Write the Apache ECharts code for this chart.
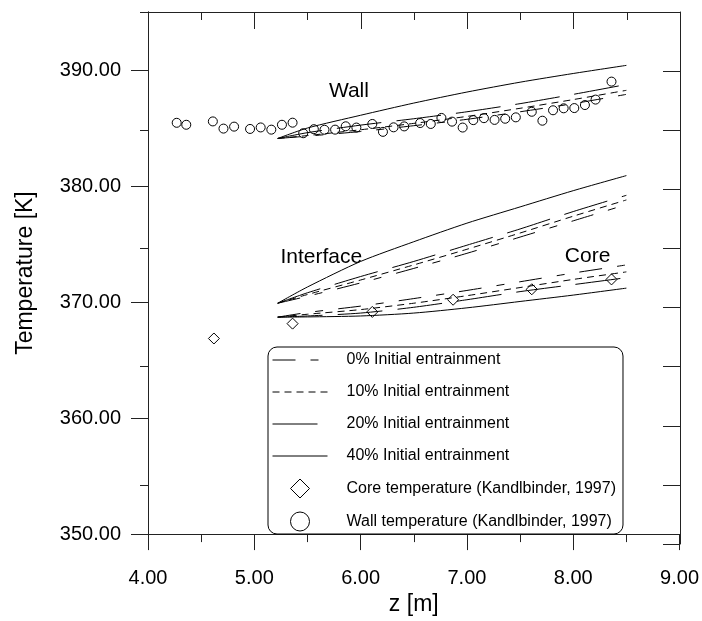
<!DOCTYPE html>
<html>
<head>
<meta charset="utf-8">
<script src="https://cdn.jsdelivr.net/npm/echarts@6/dist/echarts.min.js"></script>
<style>
  html, body { margin: 0; padding: 0; background: #fff; }
  #chart { width: 702px; height: 621px; }
</style>
</head>
<body>
<div id="chart"></div>
<script>
// Axial positions of the model output [m]
const modelZ = [5.22, 5.5, 6.0, 6.5, 7.0, 7.5, 8.0, 8.5];

// Wall temperature predictions [K]
const wall0  = [384.1, 384.3, 384.7, 385.2, 385.75, 386.4, 387.1, 387.9];
const wall10 = [384.1, 384.35, 384.85, 385.4, 386.0, 386.7, 387.45, 388.25];
const wall20 = [384.1, 384.6, 385.25, 385.8, 386.4, 387.1, 387.9, 388.75];
const wall40 = [384.1, 385.0, 386.1, 387.15, 388.1, 388.95, 389.7, 390.4];

// Interface temperature predictions [K]
const iface0  = [369.9, 370.5, 371.65, 372.9, 374.2, 375.6, 377.0, 378.4];
const iface10 = [369.9, 370.65, 371.9, 373.2, 374.55, 375.95, 377.4, 378.8];
const iface20 = [369.9, 370.8, 372.2, 373.5, 374.9, 376.3, 377.8, 379.2];
const iface40 = [369.9, 371.3, 373.5, 375.2, 376.8, 378.2, 379.6, 380.9];

// Core temperature predictions [K]
const core0  = [368.7, 369.1, 369.65, 370.3, 371.0, 371.75, 372.5, 373.2];
const core10 = [368.7, 368.95, 369.35, 369.9, 370.55, 371.25, 371.95, 372.6];
const core20 = [368.7, 368.8, 369.05, 369.55, 370.2, 370.9, 371.5, 372.1];
const core40 = [368.7, 368.72, 368.8, 369.05, 369.5, 370.05, 370.6, 371.2];

// Measurements (Kandlbinder, 1997)
const wallZ = [4.27, 4.36, 4.61, 4.71, 4.81, 4.96, 5.06, 5.16, 5.26, 5.36, 5.46, 5.56, 5.66, 5.76, 5.86, 5.96,
               6.11, 6.21, 6.31, 6.41, 6.56, 6.66, 6.76, 6.86, 6.96, 7.06, 7.16, 7.26, 7.36, 7.46,
               7.61, 7.71, 7.81, 7.91, 8.01, 8.11, 8.21, 8.36];
const wallT = [385.45, 385.28, 385.57, 384.95, 385.12, 384.92, 385.05, 384.86, 385.28, 385.46, 384.55, 384.9, 384.85, 384.86, 385.15, 385.04,
               385.35, 384.67, 385.06, 385.14, 385.43, 385.35, 385.87, 385.55, 385.04, 385.68, 385.85, 385.7, 385.8, 385.92,
               386.4, 385.63, 386.53, 386.7, 386.72, 386.98, 387.45, 389.0];
const coreZ = [4.62, 5.36, 6.11, 6.87, 7.61, 8.36];
const coreT = [366.86, 368.14, 369.15, 370.2, 371.1, 371.95];

// Curve family labels
const noteText = ['Wall', 'Interface', 'Core'];
const noteZ = [5.89, 5.63, 8.135];
const noteT = [388.2, 373.9, 373.95];

// Axis ticks
const yMajor = [350, 360, 370, 380, 390];
const yMinor = [355, 365, 375, 385, 395];

const names = ['0% Initial entrainment', '10% Initial entrainment', '20% Initial entrainment', '40% Initial entrainment'];
const coreName = 'Core temperature (Kandlbinder, 1997)';
const wallName = 'Wall temperature (Kandlbinder, 1997)';

const FONT = "'Liberation Sans', Arial, Helvetica, sans-serif";
const AX = '#222';
const dashes = [[23, 15, 8, 15], [7, 5], [45, 15], 'solid'];
// square diamond outline used for the legend sample
const DIAMOND_ICON = 'path://M10,0L20,10L10,20L0,10Z';

const pairs = (xs, ys) => xs.map((x, i) => [x, ys[i]]);

const groups = [
  [wall0, wall10, wall20, wall40],
  [iface0, iface10, iface20, iface40],
  [core0, core10, core20, core40]
];

const series = [];
groups.forEach(g => {
  g.forEach((vals, k) => {
    series.push({
      type: 'line',
      name: names[k],
      xAxisIndex: 0, yAxisIndex: 0,
      data: pairs(modelZ, vals),
      symbol: 'none',
      showSymbol: false,
      smooth: 0.25,
      silent: true,
      lineStyle: { color: '#000', width: 1, type: dashes[k] },
      itemStyle: { color: '#000' }
    });
  });
});

const hollow = { color: 'rgba(0,0,0,0)', borderColor: '#000', borderWidth: 1, opacity: 1 };

series.push({
  type: 'scatter',
  name: coreName,
  xAxisIndex: 0, yAxisIndex: 0,
  data: pairs(coreZ, coreT),
  symbol: 'diamond',
  symbolSize: 11,
  silent: true,
  itemStyle: hollow
});

series.push({
  type: 'scatter',
  name: wallName,
  xAxisIndex: 0, yAxisIndex: 0,
  data: pairs(wallZ, wallT),
  symbol: 'circle',
  symbolSize: 9,
  silent: true,
  itemStyle: hollow
});

series.push({
  type: 'scatter',
  name: 'labels',
  xAxisIndex: 0, yAxisIndex: 0,
  data: noteText.map((t, i) => ({ name: t, value: [noteZ[i], noteT[i]] })),
  symbolSize: 0,
  silent: true,
  itemStyle: { opacity: 1 },
  label: {
    show: true, position: 'inside', formatter: '{b}',
    color: '#000', fontSize: 21, fontFamily: FONT
  }
});

const fmt = v => Number(v).toFixed(2);

// legend entries for the model curves show only the line sample
const lineItem = n => ({ name: n, itemStyle: { color: 'rgba(0,0,0,0)', borderWidth: 0, opacity: 0 } });

const option = {
  backgroundColor: '#fff',
  animation: false,
  textStyle: { fontFamily: FONT },
  grid: [
    { left: 148, right: 22, top: 12, bottom: 77 },
    { left: 148, right: 22, top: 12, bottom: 77 }
  ],
  legend: {
    orient: 'vertical',
    left: 268, top: 347,
    padding: [3.5, 7, 2.5, 4],
    itemWidth: 55, itemHeight: 19, itemGap: 13,
    symbolKeepAspect: true,
    selectedMode: false,
    borderColor: '#000', borderWidth: 1, borderRadius: 9,
    backgroundColor: '#fff',
    lineStyle: { width: 1 },
    textStyle: { fontSize: 16, lineHeight: 19, color: '#000', fontFamily: FONT, padding: [0, 0, 0, 14] },
    data: names.map(lineItem).concat([
      { name: coreName, icon: DIAMOND_ICON, itemStyle: hollow },
      { name: wallName, icon: 'circle', itemStyle: hollow }
    ])
  },
  xAxis: [
    {
      type: 'value', gridIndex: 0, position: 'bottom',
      min: 4, max: 9, interval: 1,
      name: 'z [m]', nameLocation: 'middle', nameGap: 58,
      nameTextStyle: { fontSize: 23, color: '#000', fontFamily: FONT },
      axisLine: { show: true, onZero: false, lineStyle: { color: AX, width: 1 } },
      axisTick: { show: true, inside: false, length: 16, lineStyle: { color: AX } },
      minorTick: { show: true, splitNumber: 2, length: 8, lineStyle: { color: AX } },
      axisLabel: { formatter: fmt, fontSize: 20, color: '#000', margin: 34, fontFamily: FONT },
      splitLine: { show: false }, minorSplitLine: { show: false }
    },
    {
      type: 'value', gridIndex: 1, position: 'top',
      min: 4, max: 9, interval: 1,
      axisLine: { show: true, onZero: false, lineStyle: { color: AX, width: 1 } },
      axisTick: { show: true, inside: true, length: 17, lineStyle: { color: AX } },
      minorTick: { show: true, splitNumber: 2, length: 8, lineStyle: { color: AX } },
      axisLabel: { show: false },
      splitLine: { show: false }, minorSplitLine: { show: false }
    }
  ],
  yAxis: [
    {
      type: 'value', gridIndex: 0, position: 'left',
      min: 350, max: 395, interval: 10,
      name: 'Temperature [K]', nameLocation: 'middle', nameGap: 111, nameRotate: 90,
      nameTextStyle: { fontSize: 23, color: '#000', fontFamily: FONT },
      axisLine: { show: true, onZero: false, lineStyle: { color: AX, width: 1 } },
      axisTick: { show: true, inside: false, length: 17, customValues: yMajor, lineStyle: { color: AX } },
      axisLabel: { formatter: fmt, customValues: yMajor, fontSize: 20, color: '#000', margin: 27, fontFamily: FONT },
      splitLine: { show: false }
    },
    {
      type: 'value', gridIndex: 1, position: 'left',
      min: 350, max: 395, interval: 5,
      axisLine: { show: true, onZero: false, lineStyle: { color: AX, width: 1 } },
      axisTick: { show: true, inside: false, length: 8, customValues: yMinor, lineStyle: { color: AX } },
      axisLabel: { show: false },
      splitLine: { show: false }
    },
    {
      type: 'value', gridIndex: 1, position: 'right',
      min: 350, max: 395, interval: 5,
      axisLine: { show: true, onZero: false, lineStyle: { color: AX, width: 1 } },
      axisTick: { show: true, inside: true, length: 17, lineStyle: { color: AX } },
      axisLabel: { show: false },
      splitLine: { show: false }
    }
  ],
  series: series
};

const chart = echarts.init(document.getElementById('chart'), null, { renderer: 'canvas' });
chart.setOption(option);
</script>
</body>
</html>
